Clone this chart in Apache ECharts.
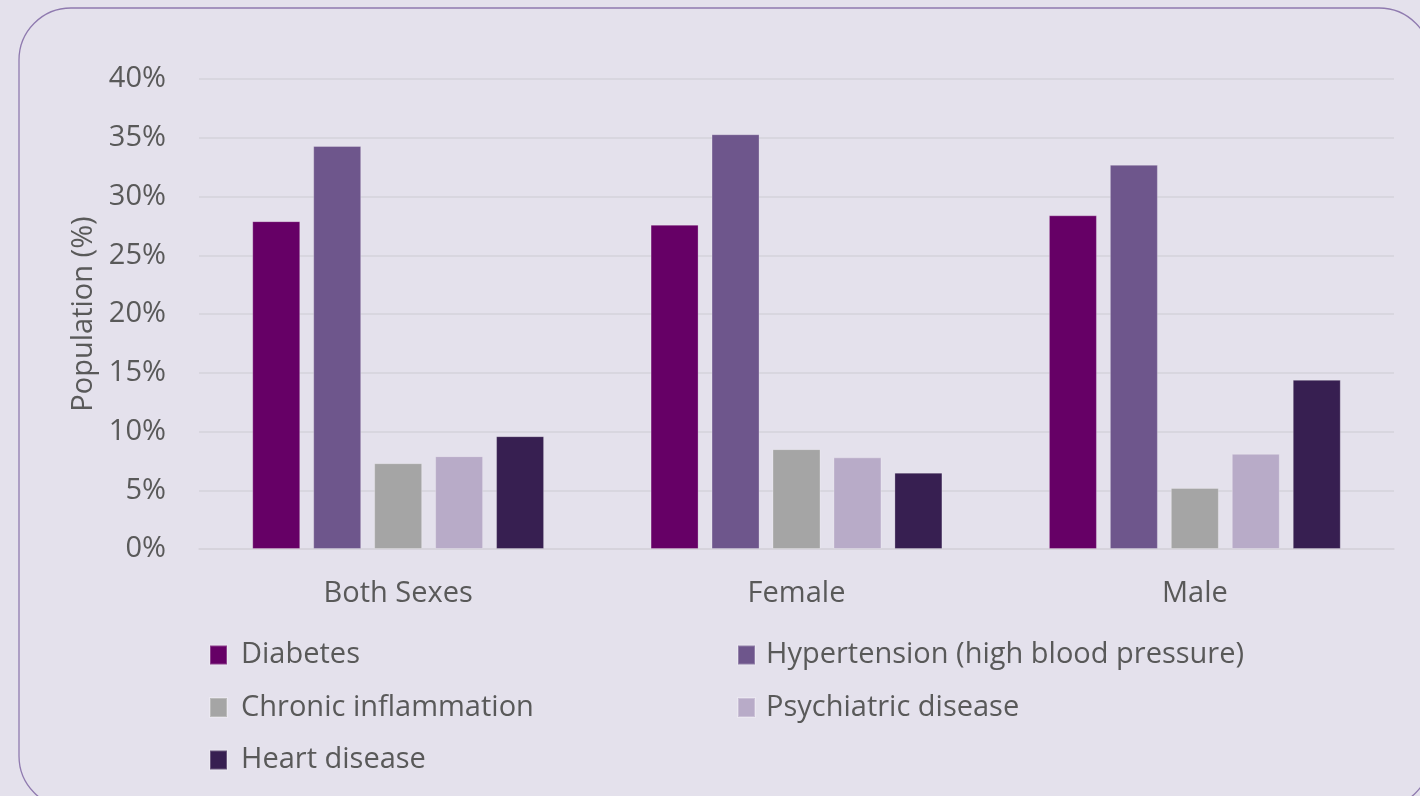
<!DOCTYPE html>
<html><head><meta charset="utf-8">
<script src="https://cdn.jsdelivr.net/npm/echarts@6/dist/echarts.min.js"></script>
<style>html,body{margin:0;padding:0;background:#E4E1EC;}#c{width:1420px;height:796px;}</style>
</head><body><div id="c"></div>
<script>
const categories = ['Both Sexes', 'Female', 'Male'];
const seriesNames = ['Diabetes', 'Hypertension (high blood pressure)', 'Chronic inflammation', 'Psychiatric disease', 'Heart disease'];
const diabetes = [27.9, 27.6, 28.4];
const hypertension = [34.3, 35.3, 32.7];
const chronicInflammation = [7.3, 8.5, 5.2];
const psychiatricDisease = [7.9, 7.8, 8.1];
const heartDisease = [9.6, 6.5, 14.4];
const yTicks = [0, 5, 10, 15, 20, 25, 30, 35, 40];

const colors = ['#660066', '#6E568C', '#A5A5A5', '#B8ABC8', '#371F51'];
const values = [diabetes, hypertension, chronicInflammation, psychiatricDisease, heartDisease];
const FONT = '"Open Sans", "Noto Sans", sans-serif';
const TXT = '#595959';
const FS = 29;

const chart = echarts.init(document.getElementById('c'), null, {renderer: 'canvas'});
chart.setOption({
  backgroundColor: '#E4E1EC',
  animation: false,
  graphic: [{
    type: 'rect', z: -10, silent: true,
    shape: {x: 19, y: 8, width: 1412, height: 800, r: 52},
    style: {fill: 'none', stroke: '#8F7AAF', lineWidth: 1.3}
  }],
  grid: {left: 199, right: 26, top: 79, bottom: 247, containLabel: false},
  legend: [{
    data: [seriesNames[0], seriesNames[2], seriesNames[4]],
    orient: 'vertical', left: 204, top: 633,
    itemWidth: 17, itemHeight: 19, itemGap: 18.5,
    icon: 'rect',
    textStyle: {color: TXT, fontSize: FS, fontFamily: FONT, lineHeight: 34, padding: [0, 0, 0, 9]}
  }, {
    data: [seriesNames[1], seriesNames[3]],
    orient: 'vertical', left: 732, top: 633,
    itemWidth: 17, itemHeight: 19, itemGap: 18.5,
    icon: 'rect',
    textStyle: {color: TXT, fontSize: FS, fontFamily: FONT, lineHeight: 34, padding: [0, 0, 0, 6]}
  }],
  xAxis: {
    type: 'category', data: categories,
    axisLine: {show: true, lineStyle: {color: '#D5D2DB', width: 1.5}},
    axisTick: {show: false},
    axisLabel: {color: TXT, fontSize: FS, fontFamily: FONT, margin: 30}
  },
  yAxis: {
    type: 'value', min: 0, max: 40, interval: 5,
    name: 'Population (%)', nameLocation: 'middle', nameGap: 95,
    nameTextStyle: {color: TXT, fontSize: FS, fontFamily: FONT},
    axisLine: {show: false}, axisTick: {show: false},
    axisLabel: {color: TXT, fontSize: FS, fontFamily: FONT, margin: 33, formatter: v => yTicks.includes(v) ? v + '%' : ''},
    splitLine: {lineStyle: {color: '#D5D2DB', width: 1.5}}
  },
  series: seriesNames.map((n, i) => ({
    name: n, type: 'bar', data: values[i],
    barWidth: 48, barGap: '27%',
    itemStyle: {color: colors[i], borderColor: 'rgba(255,255,255,0.25)', borderWidth: 1}
  }))
});
</script></body></html>
